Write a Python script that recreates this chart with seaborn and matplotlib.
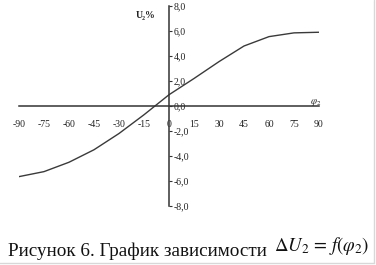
import matplotlib
matplotlib.use("Agg")
import matplotlib.pyplot as plt
from matplotlib.lines import Line2D
import seaborn as sns
import pandas as pd

# ---- data ----
phi = [-90, -75, -60, -45, -30, -15, 0, 15, 30, 45, 60, 75, 90]
dU = [-5.65, -5.25, -4.5, -3.5, -2.2, -0.7, 0.9, 2.2, 3.55, 4.8, 5.55, 5.85, 5.9]
x_ticks = [-90, -75, -60, -45, -30, -15, 0, 15, 30, 45, 60, 75, 90]
x_tick_labels = ["-90", "-75", "-60", "-45", "-30", "-15", "0", "15", "30", "45", "60", "75", "90"]
y_ticks = [-8, -6, -4, -2, 0, 2, 4, 6, 8]
y_tick_labels = ["-8,0", "-6,0", "-4,0", "-2,0", "0,0", "2,0", "4,0", "6,0", "8,0"]
y_label = "U₂%"
x_label = r"$\varphi_2$"
caption = "Рисунок 6. График зависимости"
formula = r"$\Delta U_2\,=\,f(\varphi_2)$"

sns.set_style("white")
plt.rcParams["font.family"] = ["Liberation Serif", "DejaVu Serif"]
plt.rcParams["mathtext.fontset"] = "stix"

W, H = 376, 265
fig = plt.figure(figsize=(W / 100, H / 100), dpi=100)
fig.patch.set_facecolor("white")

# axes in pixel placement
x0, x1 = 19, 319
ytop, ybot = 6, 206
ax = fig.add_axes([x0 / W, (H - ybot) / H, (x1 - x0) / W, (ybot - ytop) / H])
ax.set_facecolor("none")

df = pd.DataFrame({"phi": phi, "dU": dU})
sns.lineplot(data=df, x="phi", y="dU", ax=ax, color="#3a3a3a", linewidth=1.0)

ax.set_xlim(-90, 90)
ax.set_ylim(-8, 8)

ax.spines["top"].set_visible(False)
ax.spines["left"].set_visible(False)
ax.spines["bottom"].set_position(("data", 0))
ax.spines["right"].set_position(("data", 0))
for s in ("bottom", "right"):
    ax.spines[s].set_color("#333333")
    ax.spines[s].set_linewidth(1.1)

ax.yaxis.set_ticks_position("right")
ax.set_xticks(x_ticks)
ax.set_xticklabels(x_tick_labels)
ax.set_yticks(y_ticks)
ax.set_yticklabels(y_tick_labels)
ax.tick_params(axis="x", direction="in", length=3, width=0.8, color="#333333",
               labelsize=7, pad=10, labelcolor="#222222")
ax.tick_params(axis="y", direction="out", length=2, width=0.8, color="#333333",
               labelsize=7, pad=1.5, labelcolor="#222222")
ax.set_xlabel("")
ax.set_ylabel("")

# axis labels as text
fig.text(146 / W, 1 - 15 / H, y_label, fontsize=7, ha="center", va="center",
         color="#222222", fontweight="bold")
fig.text(316 / W, 1 - 102 / H, x_label, fontsize=7, ha="center", va="center",
         color="#222222")

# caption
fig.text(8 / W, 1 - 256 / H, caption, fontsize=13.8, ha="left", va="baseline",
         color="#111111")
fig.text(274 / W, 1 - 251 / H, formula, fontsize=13.5, ha="left", va="baseline",
         color="#111111")

# thin light border at right and bottom
fig.add_artist(Line2D([373.5 / W, 373.5 / W], [1 - 262.5 / H, 1], transform=fig.transFigure,
                      color="#d8d8d8", linewidth=1.0))
fig.add_artist(Line2D([0, 373.5 / W], [1 - 262.5 / H, 1 - 262.5 / H], transform=fig.transFigure,
                      color="#d8d8d8", linewidth=1.0))

fig.savefig("out.png", dpi=100)
